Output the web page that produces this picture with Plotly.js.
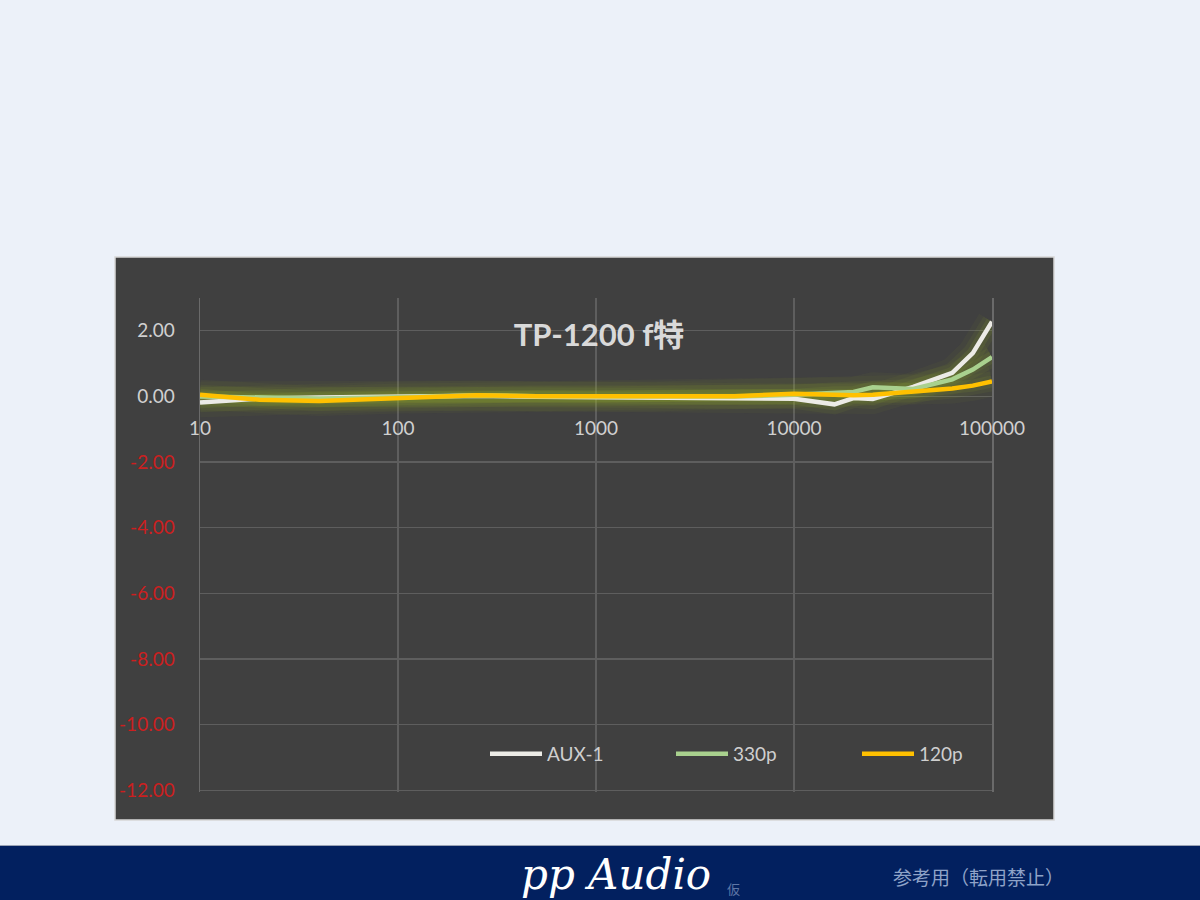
<!DOCTYPE html>
<html>
<head>
<meta charset="utf-8">
<script src="https://cdn.plot.ly/plotly-3.0.1.min.js"></script>
<style>
  html, body { margin: 0; padding: 0; background: #ECF1F9; }
  #chart { width: 1200px; height: 900px; }
</style>
</head>
<body>
<div id="chart"></div>
<script>
// ---- data ----
const freq = [10, 20, 40, 100, 250, 500, 1000, 2000, 5000, 10000, 16000, 20000, 25000, 40000, 63000, 80000, 100000];
const aux1 = [-0.18, -0.06, -0.03, 0.00, 0.02, -0.01, -0.03, -0.05, -0.08, -0.07, -0.24, -0.05, -0.08, 0.29, 0.72, 1.32, 2.28];
const p330 = [0.00, -0.04, -0.06, -0.02, 0.03, 0.01, 0.00, -0.01, 0.00, 0.05, 0.13, 0.14, 0.28, 0.23, 0.52, 0.82, 1.20];
const p120 = [0.05, -0.10, -0.14, -0.06, 0.04, 0.01, 0.00, 0.00, 0.01, 0.08, 0.03, 0.04, 0.05, 0.13, 0.24, 0.33, 0.46];
const seriesNames = ['AUX-1', '330p', '120p'];
const seriesColors = ['#ECEBE6', '#A9D18E', '#FFC000'];
const yTickVals = [-12, -10, -8, -6, -4, -2, 0, 2];
const xTickVals = [10, 100, 1000, 10000, 100000];
const xTickText = ['10', '100', '1000', '10000', '100000'];
const titleText = 'TP-1200 f特';

// ---- layout geometry (pixels of the 1200x900 page) ----
const W = 1200, H = 900;
const PL = 200, PR = 992, PT = 298, PB = 792;
const px = x => (x - PL) / (PR - PL);
const py = y => (PB - y) / (PB - PT);

const ySeries = [aux1, p330, p120];
const traces = [];
// soft yellow-green glow underneath the lines
ySeries.forEach((ys) => {
  [[30, 0.05], [20, 0.07], [12, 0.10]].forEach(([w, a]) => {
    traces.push({
      x: freq, y: ys, type: 'scatter', mode: 'lines',
      line: { color: `rgba(160,185,40,${a})`, width: w },
      showlegend: false, hoverinfo: 'skip'
    });
  });
});
ySeries.forEach((ys, i) => {
  traces.push({
    x: freq, y: ys, type: 'scatter', mode: 'lines', name: seriesNames[i],
    line: { color: seriesColors[i], width: 4.5 }
  });
});

const yTickText = yTickVals.map(v => {
  const s = v.toFixed(2);
  return v < 0 ? `<span style="color:#CC1F1F">${s}</span>` : s;
});

const fontMain = 'Lato, "Open Sans", "Noto Sans CJK JP", sans-serif';

const layout = {
  width: W, height: H,
  paper_bgcolor: '#ECF1F9',
  plot_bgcolor: 'rgba(0,0,0,0)',
  margin: { l: PL, r: W - PR, t: PT, b: H - PB, pad: 0 },
  showlegend: true,
  title: {
    text: '<b>' + titleText + '</b>',
    font: { family: fontMain, size: 31, color: '#D9D9D9' },
    xref: 'paper', x: px(599), xanchor: 'center',
    yref: 'container', y: 1 - 335 / H, yanchor: 'middle'
  },
  xaxis: {
    type: 'log', range: [1, 5],
    tickmode: 'array', tickvals: xTickVals, ticktext: xTickText,
    anchor: 'free', position: py(397),
    showline: false, zeroline: false, ticks: '',
    showgrid: true, gridcolor: '#5E5E5E', gridwidth: 1.3,
    tickfont: { family: fontMain, size: 19, color: '#D0D0D0' },
    ticklabelstandoff: 18
  },
  yaxis: {
    range: [-12.05, 3],
    tickmode: 'array', tickvals: yTickVals, ticktext: yTickText,
    showline: true, mirror: true, linecolor: '#6A6A6A', linewidth: 1.5,
    zeroline: false, ticks: '',
    showgrid: true, gridcolor: '#5E5E5E', gridwidth: 1.3,
    tickfont: { family: fontMain, size: 19, color: '#D0D0D0' },
    ticklabelstandoff: 20
  },
  legend: {
    orientation: 'h',
    x: px(485), xanchor: 'left',
    y: py(754), yanchor: 'middle',
    bgcolor: 'rgba(0,0,0,0)',
    font: { family: fontMain, size: 19, color: '#CFCFCF' },
    itemwidth: 52,
    entrywidth: 119, entrywidthmode: 'pixels',
    traceorder: 'normal'
  },
  shapes: [
    // dark chart box
    { type: 'rect', xref: 'paper', yref: 'paper', layer: 'below',
      x0: px(115), x1: px(1054), y0: py(820), y1: py(257),
      fillcolor: '#404040', line: { color: '#D6D6D6', width: 1.5 } },
    // bottom banner
    { type: 'rect', xref: 'paper', yref: 'paper', layer: 'below',
      x0: px(-5), x1: px(1205), y0: py(905), y1: py(845),
      fillcolor: '#02205F', line: { width: 0 } },
    { type: 'line', xref: 'paper', yref: 'paper', layer: 'below',
      x0: px(0), x1: px(1200), y0: py(845.5), y1: py(845.5),
      line: { color: '#9AA3B5', width: 1 } }
  ],
  annotations: [
    { text: '<i>pp Audio</i>', xref: 'paper', yref: 'paper',
      x: px(616), y: py(874), xanchor: 'center', yanchor: 'middle', showarrow: false,
      font: { family: '"DejaVu Serif", "Liberation Serif", serif', size: 42, color: '#FFFFFF' } },
    { text: '仮', xref: 'paper', yref: 'paper',
      x: px(733), y: py(888), xanchor: 'center', yanchor: 'middle', showarrow: false,
      font: { family: '"Noto Sans CJK JP", sans-serif', size: 13, color: '#5F77A6' } },
    { text: '参考用（転用禁止）', xref: 'paper', yref: 'paper',
      x: px(978), y: py(876), xanchor: 'center', yanchor: 'middle', showarrow: false,
      font: { family: '"Noto Sans CJK JP", sans-serif', size: 19, color: '#8FA3C8' } }
  ]
};

Plotly.newPlot('chart', traces, layout, { displayModeBar: false, staticPlot: true });
</script>
</body>
</html>
